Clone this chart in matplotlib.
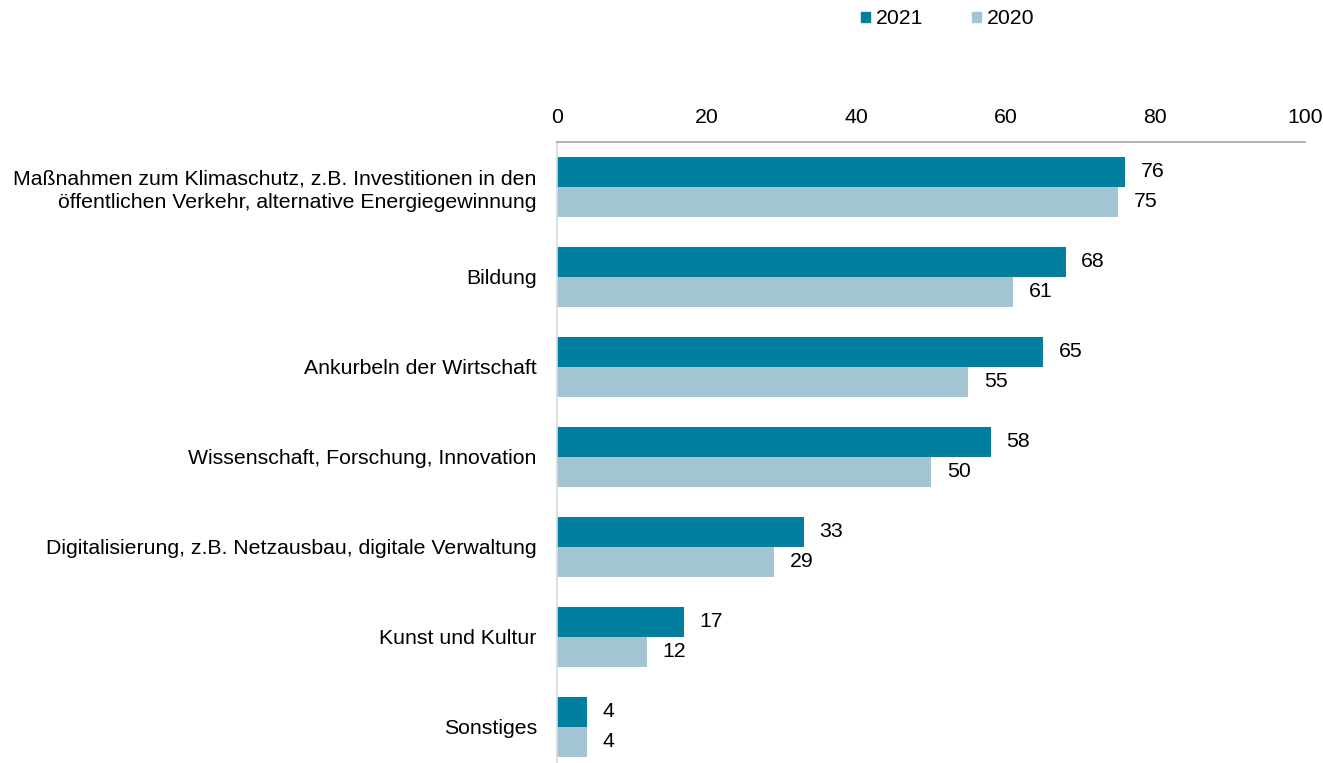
import matplotlib.pyplot as plt
import numpy as np
from matplotlib.patches import Rectangle

plt.rcParams['font.family'] = ['Liberation Sans', 'DejaVu Sans']

# data
categories = [
    "Maßnahmen zum Klimaschutz, z.B. Investitionen in den\nöffentlichen Verkehr, alternative Energiegewinnung",
    "Bildung",
    "Ankurbeln der Wirtschaft",
    "Wissenschaft, Forschung, Innovation",
    "Digitalisierung, z.B. Netzausbau, digitale Verwaltung",
    "Kunst und Kultur",
    "Sonstiges",
]
values_2021 = [76, 68, 65, 58, 33, 17, 4]
values_2020 = [75, 61, 55, 50, 29, 12, 4]
series_labels = ["2021", "2020"]
xticks = [0, 20, 40, 60, 80, 100]

c2021 = '#007f9f'
c2020 = '#a3c4d3'
fs = 15.3

fig = plt.figure(figsize=(13.23, 7.63), dpi=100)
ax = fig.add_axes([557/1323, 0.0, (1305-557)/1323, 1 - 142/763])

y = np.arange(len(categories))
h = 1/3
ax.barh(y - h/2, values_2021, height=h, color=c2021)
ax.barh(y + h/2, values_2020, height=h, color=c2020)

for yi, v in zip(y, values_2021):
    ax.text(v + 2.1, yi - h/2, str(v), va='center', ha='left', fontsize=fs)
for yi, v in zip(y, values_2020):
    ax.text(v + 2.1, yi + h/2, str(v), va='center', ha='left', fontsize=fs)

ax.set_xlim(0, 100)
ax.set_ylim(6.4, -0.5)
ax.xaxis.tick_top()
ax.set_xticks(xticks)
ax.set_xticklabels([str(t) for t in xticks], fontsize=fs)
ax.tick_params(axis='x', length=0, pad=11)
ax.set_yticks(y)
ax.set_yticklabels(categories, fontsize=fs, ha='right', linespacing=1.3)
ax.tick_params(axis='y', length=0, pad=14.5)

for s in ['right', 'bottom']:
    ax.spines[s].set_visible(False)
ax.spines['top'].set_color('#a6a6a6')
ax.spines['top'].set_linewidth(1.2)
ax.spines['left'].set_color('#d9d9d9')
ax.spines['left'].set_linewidth(1.2)

# legend
handles = [Rectangle((0, 0), 1, 1, color=c2021), Rectangle((0, 0), 1, 1, color=c2020)]
fig.legend(handles, series_labels, loc='center', bbox_to_anchor=(948/1323, 1 - 19/763),
           ncol=2, frameon=False, fontsize=fs, handlelength=0.4, handleheight=0.4,
           handletextpad=0.3, columnspacing=2.3)

fig.savefig('out.png', dpi=100)
